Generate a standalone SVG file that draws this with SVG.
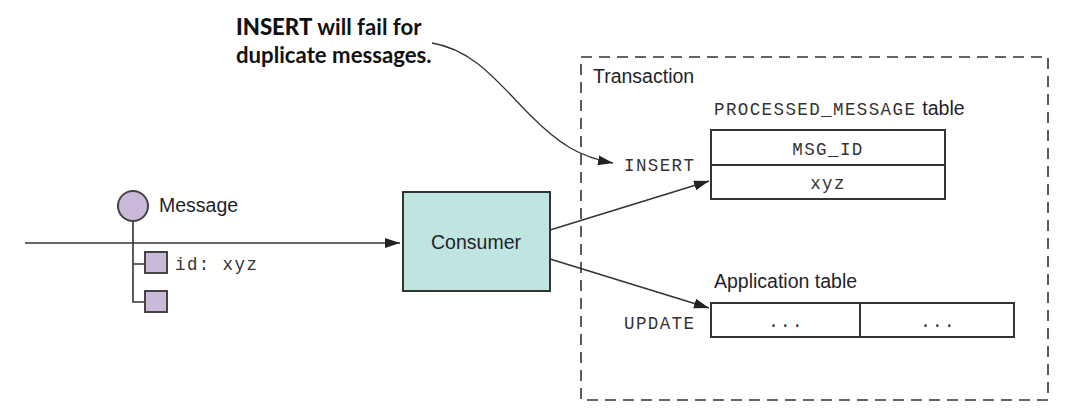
<svg xmlns="http://www.w3.org/2000/svg" width="1067" height="413" viewBox="0 0 1067 413">
<style>
.sans{font-family:"Liberation Sans",Arial,sans-serif;font-size:19.5px;fill:#1f1f2a}
.mono{font-family:"Liberation Mono","Courier New",monospace;font-size:17.5px;letter-spacing:1.4px;fill:#333}
.call{font-family:Lato,"Noto Sans",sans-serif;font-size:22.2px;font-weight:700;fill:#111}
.box{fill:#fff;stroke:#333;stroke-width:2}
.purple{fill:#cbb9da;stroke:#444;stroke-width:2}
.line{fill:none;stroke:#333;stroke-width:1.6}
</style>
<defs>
<marker id="arrow" markerUnits="userSpaceOnUse" markerWidth="16" markerHeight="12" refX="15" refY="5" orient="auto"><path d="M0 0L15 5L0 10Z" fill="#222"/></marker>
</defs>
<rect width="1067" height="413" fill="#fff"/>
<g id="transaction">
<rect x="581" y="57" width="467" height="343" fill="none" stroke="#333" stroke-width="1.6" stroke-dasharray="11 7"/>
<text class="sans" x="593" y="83">Transaction</text>
</g>
<g id="connectors">
<path class="line" d="M25 243H400" marker-end="url(#arrow)"/>
<path class="line" d="M133 221V302H145M133 264H145"/>
<path class="line" d="M550 230L709 181" marker-end="url(#arrow)"/>
<path class="line" d="M550 259L709 308" marker-end="url(#arrow)"/>
<path class="line" style="stroke-width:1.3" d="M432 43C475 50 500 85 530 115C560 145 580 157 613 163" marker-end="url(#arrow)"/>
</g>
<g id="callout">
<text class="call" x="236" y="35"><tspan style="font-weight:900">INSERT</tspan> will fail for</text>
<text class="call" x="236" y="63">duplicate messages.</text>
</g>
<g id="message">
<circle class="purple" cx="133" cy="206" r="15"/>
<text class="sans" x="159" y="212">Message</text>
</g>
<g id="field-id">
<rect class="purple" x="145" y="252" width="22" height="21"/>
<text class="mono" x="175" y="270">id: xyz</text>
</g>
<g id="field-empty">
<rect class="purple" x="145" y="291" width="22" height="21"/>
</g>
<g id="consumer">
<rect x="403" y="192" width="147" height="99" fill="#c0e4e0" stroke="#333" stroke-width="2"/>
<text class="sans" x="476" y="249" text-anchor="middle">Consumer</text>
</g>
<g id="processed-message-table">
<text x="714" y="115"><tspan class="mono">PROCESSED_MESSAGE</tspan><tspan class="sans" dx="6">table</tspan></text>
<text class="mono" x="624" y="171">INSERT</text>
<rect class="box" x="711" y="130" width="234" height="69"/>
<path class="line" style="stroke-width:2" d="M711 165H945"/>
<text class="mono" x="828" y="155" text-anchor="middle">MSG_ID</text>
<text class="mono" x="828" y="189" text-anchor="middle">xyz</text>
</g>
<g id="application-table">
<text class="sans" x="714" y="288">Application table</text>
<text class="mono" x="624" y="329">UPDATE</text>
<rect class="box" x="711" y="303" width="303" height="34"/>
<path class="line" style="stroke-width:2" d="M860 303V337"/>
<text class="mono" x="786" y="327" text-anchor="middle">...</text>
<text class="mono" x="938" y="327" text-anchor="middle">...</text>
</g>
</svg>
